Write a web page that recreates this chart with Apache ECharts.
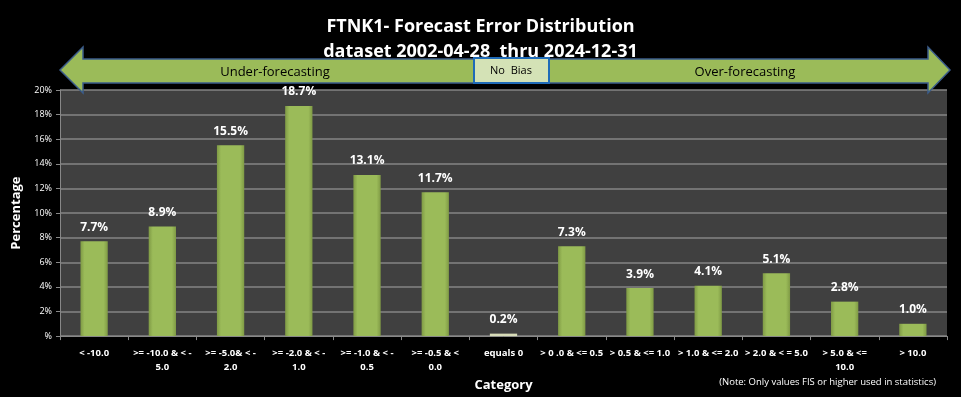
<!DOCTYPE html>
<html>
<head>
<meta charset="utf-8">
<script src="https://cdn.jsdelivr.net/npm/echarts@6/dist/echarts.min.js"></script>
<style>
  html, body { margin: 0; padding: 0; background: #000; }
  #chart { width: 961px; height: 397px; }
</style>
</head>
<body>
<div id="chart"></div>
<script>
var categories = ['< -10.0', '>= -10.0 & < -\n5.0', '>= -5.0& < -\n2.0', '>= -2.0 & < -\n1.0',
  '>= -1.0 & < -\n0.5', '>= -0.5 & <\n0.0', 'equals 0', '> 0 .0 & <= 0.5', '> 0.5 & <= 1.0',
  '> 1.0 & <= 2.0', '> 2.0 & < = 5.0', '> 5.0 & <=\n10.0', '> 10.0'];
var percents = [7.7, 8.9, 15.5, 18.7, 13.1, 11.7, 0.2, 7.3, 3.9, 4.1, 5.1, 2.8, 1.0];
var zeroIndex = 6;

var font = "'Liberation Sans Narrow', 'Open Sans', sans-serif";
var greenBar = {
    type: 'linear', x: 0, y: 0, x2: 1, y2: 0,
    colorStops: [
        { offset: 0, color: '#7f9a45' },
        { offset: 0.15, color: '#9bbb59' },
        { offset: 0.85, color: '#9bbb59' },
        { offset: 1, color: '#7f9a45' }
    ]
}
var paleBar = '#d7dcb8'

var barData = percents.map(function (v, i) {
    return { value: v, itemStyle: { color: i === zeroIndex ? paleBar : greenBar } }
})

var chart = echarts.init(document.getElementById('chart'));
var option = {
    backgroundColor: '#000',
    title: {
        text: 'FTNK1- Forecast Error Distribution\ndataset 2002-04-28  thru 2024-12-31',
        left: 'center',
        top: 9,
        textStyle: { color: '#fff', fontSize: 18, fontWeight: 'bold', fontFamily: font, lineHeight: 25 }
    },
    grid: { left: 60, right: 14, top: 90, bottom: 57, show: true, backgroundColor: '#404040', borderWidth: 0 },
    xAxis: {
        type: 'category',
        data: categories,
        name: 'Category',
        nameLocation: 'middle',
        nameGap: 38,
        nameTextStyle: { color: '#fff', fontSize: 13, fontWeight: 'bold', fontFamily: font },
        axisLine: { lineStyle: { color: '#888' } },
        axisTick: { show: true, length: 4, lineStyle: { color: '#888' } },
        axisLabel: { color: '#fff', fontSize: 9.5, fontWeight: 'bold', fontFamily: font, interval: 0, lineHeight: 14, margin: 10 }
    },
    yAxis: {
        type: 'value',
        min: 0,
        max: 20,
        interval: 2,
        name: 'Percentage',
        nameLocation: 'middle',
        nameGap: 37,
        nameTextStyle: { color: '#fff', fontSize: 13, fontWeight: 'bold', fontFamily: font },
        axisLine: { show: true, lineStyle: { color: '#888' } },
        axisTick: { show: true, length: 4, lineStyle: { color: '#888' } },
        splitLine: { lineStyle: { color: '#858585', width: 1.5 } },
        axisLabel: {
            color: '#fff', fontSize: 9, fontFamily: font, margin: 8,
            formatter: function (v) { return v === 0 ? '%' : v + '%' }
        }
    },
    series: [{
        type: 'bar',
        data: barData,
        barWidth: '40%',
        label: {
            show: true,
            position: 'top',
            distance: 8,
            color: '#fff',
            fontSize: 12,
            fontWeight: 'bold',
            fontFamily: font,
            formatter: function (p) { return p.value.toFixed(1) + '%' }
        }
    }],
    graphic: [
        {
            type: 'polygon',
            shape: { points: [[60, 70], [83, 47], [83, 59], [928, 59], [928, 47], [950, 70], [928, 93], [928, 83], [83, 83], [83, 93]] },
            style: { fill: '#9bbb59', stroke: '#3b5c8a', lineWidth: 1.5 },
            z: 10
        },
        {
            type: 'rect',
            shape: { x: 474, y: 58, width: 75, height: 25 },
            style: { fill: '#d4e2b6', stroke: '#1f6bb8', lineWidth: 2 },
            z: 11
        },
        {
            type: 'text',
            x: 511, y: 71,
            style: { text: 'No  Bias', fill: '#000', font: '11px ' + font, textAlign: 'center', textVerticalAlign: 'middle' },
            z: 12
        },
        {
            type: 'text',
            x: 275, y: 72,
            style: { text: 'Under-forecasting', fill: '#000', font: '13px ' + font, textAlign: 'center', textVerticalAlign: 'middle' },
            z: 12
        },
        {
            type: 'text',
            x: 745, y: 72,
            style: { text: 'Over-forecasting', fill: '#000', font: '13px ' + font, textAlign: 'center', textVerticalAlign: 'middle' },
            z: 12
        },
        {
            type: 'text',
            x: 936, y: 382,
            style: { text: '(Note: Only values FIS or higher used in statistics)', fill: '#fff', font: '9.5px ' + font, textAlign: 'right', textVerticalAlign: 'middle' },
            z: 12
        }
    ]
};
chart.setOption(option);
</script>
</body>
</html>
